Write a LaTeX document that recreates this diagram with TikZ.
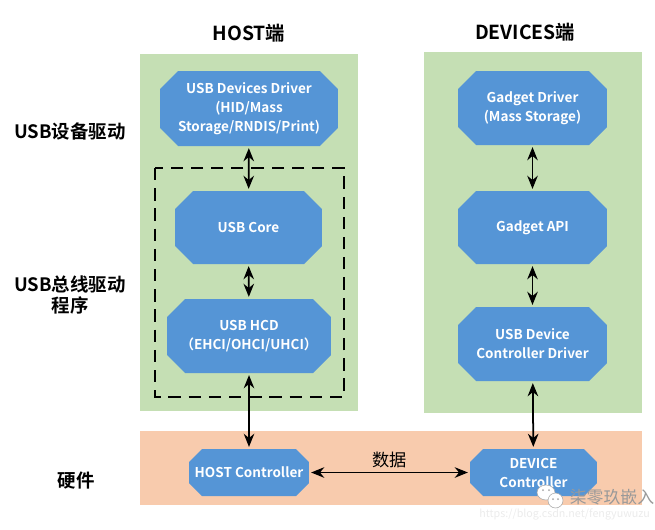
\documentclass[tikz,border=0pt]{standalone}
\usepackage{fontspec}
\setmainfont[BoldFont=* Bold]{Noto Sans CJK SC}
\usetikzlibrary{arrows.meta}
\definecolor{panelgreen}{HTML}{C5DFB4}
\definecolor{panelorange}{HTML}{F8CBAD}
\definecolor{boxblue}{HTML}{5595D6}
\tikzset{
	blockbox/.style={rectangle, text=white, inner sep=0pt, align=center, font=\fontsize{7.7pt}{10.8pt}\selectfont\bfseries,
		path picture={\fill[boxblue]
			([xshift=#1]path picture bounding box.north west) -- ([xshift=-#1]path picture bounding box.north east)
			-- ([yshift=-#1]path picture bounding box.north east) -- ([yshift=#1]path picture bounding box.south east)
			-- ([xshift=-#1]path picture bounding box.south east) -- ([xshift=#1]path picture bounding box.south west)
			-- ([yshift=#1]path picture bounding box.south west) -- ([yshift=-#1]path picture bounding box.north west) -- cycle;}},
	blockbox/.default=0.36cm,
	sidelabel/.style={align=center, font=\fontsize{10.5pt}{12.5pt}\selectfont\bfseries},
	titlelabel/.style={font=\fontsize{11pt}{13pt}\selectfont\bfseries},
	link/.style={<->, line width=1pt, shorten <=1pt, shorten >=1pt}
}
\begin{document}
\begin{tikzpicture}[>={Stealth[length=7.5pt,width=6pt]}, x=0.02cm, y=0.02cm]
	\useasboundingbox (0,0) rectangle (655,-529);
	% panels
	\fill[panelgreen] (140,-54) rectangle (358,-411);
	\fill[panelgreen] (424,-52) rectangle (642,-413);
	\fill[panelorange] (140,-431) rectangle (642,-505);
	\draw[line width=1pt, dash pattern=on 7pt off 4.5pt] (155,-168) rectangle (344,-397);
	% titles
	\node[titlelabel] (hosttitle) at (249,-33) {HOST端};
	\node[titlelabel] (devtitle) at (525,-32) {DEVICES端};
	\node[sidelabel] (driverlabel) at (70,-131) {USB设备驱动};
	\node[sidelabel] (buslabel) at (70,-295) {USB总线驱动\\程序};
	\node[sidelabel] (hwlabel) at (76,-481) {硬件};
	% host side
	\node[blockbox, minimum width=3.56cm, minimum height=1.5cm] (usbdriver) at (249,-108.5) {USB Devices Driver\\(HID/Mass\\Storage/RNDIS/Print)};
	\node[blockbox, minimum width=2.94cm, minimum height=1.46cm] (usbcore) at (248.5,-227.5) {USB Core};
	\node[blockbox, minimum width=3.28cm, minimum height=1.48cm] (usbhcd) at (249,-336) {USB HCD\\（EHCI/OHCI/UHCI）};
	\node[blockbox=0.26cm, minimum width=2.4cm, minimum height=0.94cm] (hostctrl) at (249,-472.5) {HOST Controller};
	% device side
	\node[blockbox, minimum width=2.98cm, minimum height=1.48cm] (gadgetdriver) at (532.5,-108) {Gadget Driver\\(Mass Storage)};
	\node[blockbox, minimum width=2.98cm, minimum height=1.46cm] (gadgetapi) at (532.5,-227.5) {Gadget API};
	\node[blockbox, minimum width=2.98cm, minimum height=1.48cm] (udcdriver) at (532.5,-344) {USB Device\\Controller Driver};
	\node[blockbox=0.26cm, minimum width=2.54cm, minimum height=0.94cm] (devctrl) at (533.5,-472.5) {DEVICE\\Controller};
	% links
	\draw[link] (usbdriver) -- (usbcore);
	\draw[link] (usbcore) -- (usbhcd);
	\draw[link] (usbhcd) -- (hostctrl);
	\draw[link] (gadgetdriver) -- (gadgetapi);
	\draw[link] (gadgetapi) -- (udcdriver);
	\draw[link] (udcdriver) -- (devctrl);
	\draw[link] (hostctrl) -- node[above=-1.5pt, font=\fontsize{9.8pt}{11pt}\selectfont] (datalabel) {数据} (devctrl);
	% watermark
	\fill[white, draw=black!35, line width=0.3pt] (546,-492.5) ellipse (9 and 7.5);
	\fill[white, draw=black!35, line width=0.3pt] (555.5,-500.5) ellipse (7.5 and 7.5);
	\foreach \x/\y in {543/490, 549/490, 553/499, 558/499}
		\fill[black!35] (\x,-\y) circle (1);
	\node[text=black!40, font=\fontsize{9.6pt}{11pt}\selectfont] (wmname) at (612,-497) {柒零玖嵌入};
	\node[text=black!8, font=\fontsize{6.1pt}{7pt}\selectfont, anchor=west, inner sep=0pt] (wmurl) at (479,-514) {https://blog.csdn.net/fengyuwuzu};
\end{tikzpicture}
\end{document}
